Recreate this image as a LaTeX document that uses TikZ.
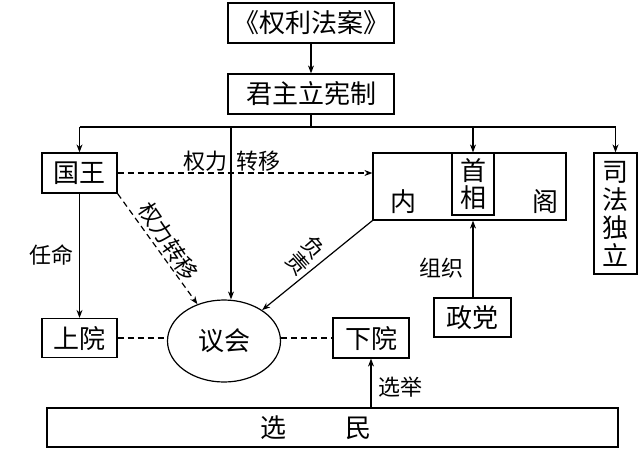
\documentclass[tikz,border=0pt]{standalone}
\usepackage{fontspec}
\newfontfamily\cjk{Noto Sans CJK SC}
\usetikzlibrary{shapes.geometric,arrows.meta}
\begin{document}
\begin{tikzpicture}[x=1pt,y=-1pt,
  box/.style={draw, line width=1.2pt, inner sep=0pt, align=center, font=\cjk\fontsize{26}{28}\selectfont},
  txt/.style={inner sep=0pt, font=\cjk\fontsize{26}{28}\selectfont},
  lbl/.style={inner sep=0pt, font=\cjk\fontsize{22}{22}\selectfont},
  conn/.style={line width=1.2pt},
  arr/.style={conn, -{Stealth[length=8pt,width=6pt]}},
  dsh/.style={conn, dash pattern=on 6pt off 4pt}]
\useasboundingbox (0,0) rectangle (640,456);
% boxes
\node[box, minimum width=166, minimum height=40] (bill) at (311,23) {《权利法案》};
\node[box, minimum width=166, minimum height=40] (cm) at (311,94) {君主立宪制};
\node[box, minimum width=75, minimum height=40] (king) at (79.5,173) {国王};
\node[box, minimum width=75, minimum height=39] (upper) at (79.5,338) {上院};
\node[draw, line width=1.2pt, ellipse, inner sep=0pt, minimum width=113, minimum height=82,
      font=\cjk\fontsize{26}{28}\selectfont] (parl) at (224,341) {议会};
\node[box, minimum width=193, minimum height=67] (cab) at (469.5,186.5) {};
\node[box, minimum width=42, minimum height=62] (pm) at (473,184) {首\\[-1pt]相};
\node[txt] (nei) at (403,202) {内};
\node[txt] (ge) at (545,202) {阁};
\node[box, minimum width=43, minimum height=121] (jud) at (615.5,213.5) {司\\法\\独\\立};
\node[box, minimum width=77, minimum height=39] (party) at (472.5,317.5) {政党};
\node[box, minimum width=76, minimum height=40] (lower) at (371,338) {下院};
\node[box, minimum width=571, minimum height=39] (voters) at (332.5,427.5) {};
\node[txt] (xuan) at (273.5,428) {选};
\node[txt] (min) at (358,428) {民};
% bus
\coordinate (bus) at (311,127);
\coordinate (pv) at (231,127);
\draw[arr] (bill) -- (cm);
\draw[conn] (cm) -- (bus);
\draw[conn] (king.north |- bus) -- (jud.north |- bus);
\draw[arr] (king.north |- bus) -- (king.north);
\draw[arr] (pm.north |- bus) -- (pm.north);
\draw[arr] (jud.north |- bus) -- (jud.north);
\draw[arr] (pv) -- (pv |- parl.north);
% other connectors
\draw[arr] (king) -- (upper);
\draw[dsh, -{Stealth[length=8pt,width=6pt]}] (king.east) -- (king.east -| cab.west);
\draw[dsh, -{Stealth[length=8pt,width=6pt]}] (king.south east) -- (parl);
\draw[dsh] (upper.east) -- (upper.east -| parl.west);
\draw[dsh] (lower.west -| parl.east) -- (lower.west);
\draw[arr] (cab.south west) -- (parl);
\draw[arr] (pm |- party.north) -- (pm |- cab.south);
\draw[arr] (lower |- voters.north) -- (lower.south);
% labels
\node[lbl] (l1) at (232,161) {权力\hspace{10pt}转移};
\node[lbl] (l2) at (51,255) {任命};
\node[lbl, rotate=-56] (l3) at (168.5,241.5) {权力转移};
\node[lbl, rotate=-49] (l4a) at (314,247) {负};
\node[lbl, rotate=-49] (l4b) at (298,263) {责};
\node[lbl] (l5) at (441.5,268) {组织};
\node[lbl] (l6) at (400,387) {选举};
\end{tikzpicture}
\end{document}
